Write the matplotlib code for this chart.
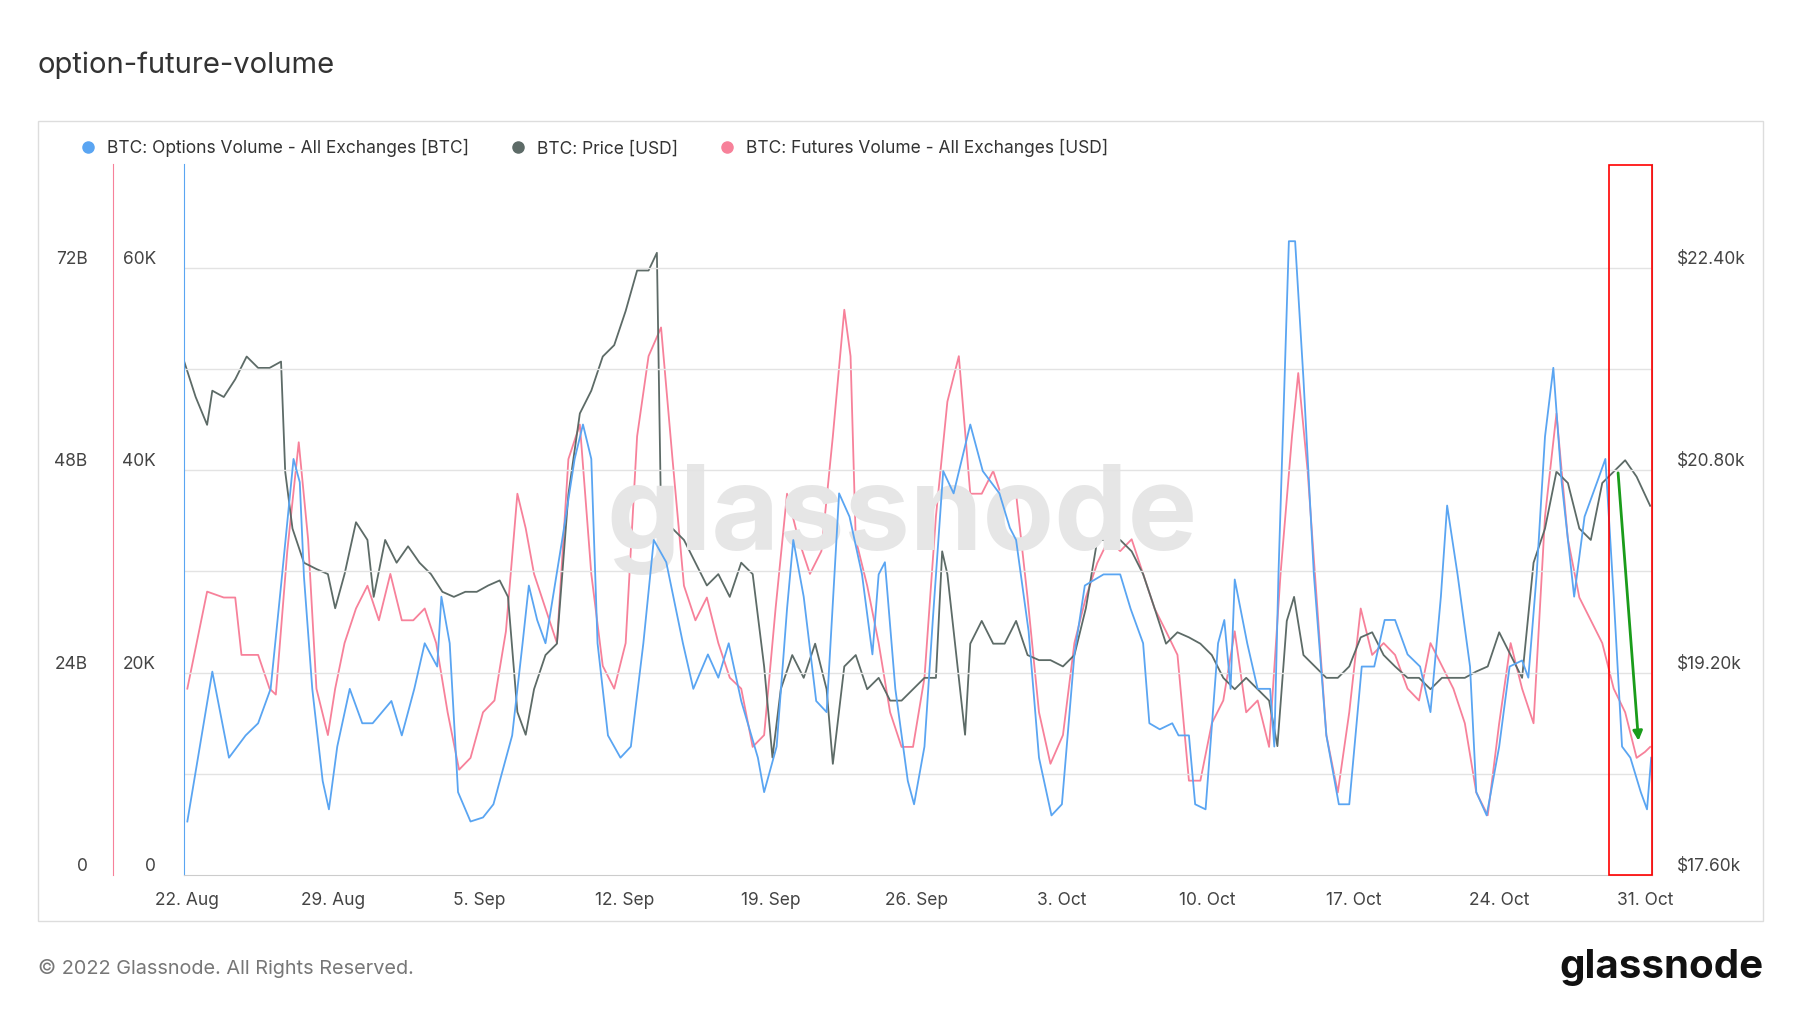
import matplotlib
matplotlib.use("Agg")
import matplotlib.pyplot as plt
from matplotlib.lines import Line2D
from matplotlib.patches import Rectangle, FancyArrowPatch

# days since 22 Aug 2022
opt_days = [0,1.2,2,2.8,3.4,4,4.5,5.1,5.4,5.6,6,6.5,6.8,7.2,7.8,8.4,8.9,9.8,10.3,10.9,11.4,12,12.2,12.6,13,13.6,14.2,14.7,15.6,16.1,16.4,16.8,17.2,18,18.6,19,19.4,19.7,20.2,20.8,21.3,21.9,22.4,23,23.8,24.3,25,25.5,26,26.6,27.4,27.7,28.3,28.8,29.1,29.6,30.2,30.7,31.3,31.8,32.4,32.9,33.2,33.5,34,34.6,34.9,35.4,35.8,36.3,36.8,37.6,38.2,39,39.5,39.8,40.4,40.9,41.5,42,42.6,43.1,44,44.8,45.3,45.9,46.2,46.7,47.3,47.6,48.1,48.4,48.9,49.5,49.8,50.1,50.3,50.9,51.4,52,52.2,52.4,52.9,53.2,53.6,54.1,54.7,55.3,55.8,56.4,57,57.5,58,58.6,59.2,59.7,60.2,60.5,61,61.6,61.9,62.4,63,63.5,64.1,64.4,64.8,65.2,65.6,66,66.6,67.1,67.7,68.1,68.5,68.9,69.3,69.8,70.1,70.3]
opt_vol_k = [5.3,20.1,11.6,13.8,15.0,18.4,28.6,41.1,38.8,29.5,18.4,9.3,6.5,12.7,18.4,15.0,15.0,17.2,13.8,18.4,22.9,20.6,27.5,22.9,8.2,5.3,5.7,7.0,13.8,22.9,28.6,25.2,22.9,33.1,41.1,44.5,41.1,22.9,13.8,11.6,12.7,22.9,33.1,30.9,22.9,18.4,21.8,19.5,22.9,17.2,11.6,8.2,12.7,26.3,33.1,27.5,17.2,16.1,37.7,35.4,29.7,21.8,29.7,30.9,18.4,9.3,7.0,12.7,25.2,39.9,37.7,44.5,39.9,37.7,34.3,33.1,24.1,11.6,5.9,7.0,21.8,28.6,29.7,29.7,26.3,22.9,15.0,14.4,15.0,13.8,13.8,7.0,6.5,22.9,25.2,18.4,29.2,22.9,18.4,18.4,12.7,29.7,62.6,62.6,49.0,29.7,13.8,7.0,7.0,20.6,20.6,25.2,25.2,21.8,20.6,16.1,27.5,36.5,29.7,20.6,8.2,5.9,12.7,20.6,21.2,19.5,29.7,43.3,50.1,38.8,27.5,35.4,38.8,41.1,27.5,12.7,11.6,8.2,6.5,11.6]

fut_days = [0,0.95,1.75,2.3,2.6,3.4,3.95,4.25,4.8,5.35,5.8,6.2,6.75,7.1,7.55,8.1,8.65,9.2,9.75,10.3,10.85,11.4,11.95,12.5,13.05,13.6,14.2,14.75,15.3,15.85,16.25,16.65,17.2,17.75,18.3,18.85,19.4,19.95,20.5,21.05,21.6,22.15,22.75,23.3,23.85,24.4,24.95,25.5,26.05,26.6,27.15,27.7,28.25,28.8,29.35,29.9,30.45,31.0,31.55,31.85,32.1,32.65,33.2,33.75,34.3,34.85,35.4,35.95,36.5,37.05,37.6,38.15,38.7,39.25,39.8,40.35,40.9,41.45,42.05,42.6,43.15,43.7,44.25,44.8,45.35,45.9,46.45,47.0,47.55,48.1,48.65,49.2,49.75,50.3,50.85,51.4,51.95,52.5,53.05,53.35,53.8,54.15,54.7,55.25,55.8,56.35,56.9,57.45,58.0,58.6,59.15,59.7,60.25,60.8,61.35,61.9,62.45,63.0,63.55,64.1,64.65,65.2,65.75,66.3,66.85,67.4,67.95,68.5,69.05,69.6,70.0,70.25]
fut_vol_b = [22.1,33.6,32.9,32.9,26.1,26.1,22.1,21.4,38.4,51.3,39.8,22.1,16.6,22.1,27.5,31.6,34.3,30.2,35.7,30.2,30.2,31.6,27.5,19.3,12.5,13.9,19.3,20.7,28.9,45.2,41.1,35.7,31.6,27.5,49.3,53.4,35.7,24.8,22.1,27.5,52.0,61.5,64.9,49.3,34.3,30.2,32.9,27.5,23.4,22.1,15.2,16.6,31.6,45.2,39.8,35.7,38.4,52.0,67.0,61.5,39.8,34.3,27.5,19.3,15.2,15.2,23.4,42.5,56.1,61.5,45.2,45.2,47.9,43.8,45.2,32.9,19.3,13.2,16.6,27.5,32.9,37.0,39.8,38.4,39.8,35.7,31.6,28.9,26.1,11.2,11.2,18.0,20.7,28.9,19.3,20.7,15.2,35.7,52.0,59.5,47.9,35.7,16.6,9.8,19.3,31.6,26.1,27.5,26.1,22.1,20.7,27.5,24.8,22.1,18.0,9.8,7.1,18.0,27.5,22.1,18.0,42.5,54.7,39.8,32.9,30.2,27.5,22.1,19.3,13.9,14.6,15.2]

price_days = [-0.15,0.4,0.95,1.2,1.75,2.3,2.85,3.4,3.95,4.5,4.7,5.05,5.6,6.2,6.75,7.1,7.55,8.1,8.65,8.95,9.5,10.05,10.6,11.15,11.7,12.25,12.8,13.35,13.9,14.45,15.0,15.4,15.85,16.25,16.65,17.2,17.75,18.3,18.85,19.4,19.95,20.5,21.05,21.6,22.15,22.55,22.75,23.3,23.85,24.4,24.95,25.5,26.05,26.6,27.15,27.7,28.1,28.5,29.05,29.6,30.15,30.7,31.0,31.55,32.1,32.65,33.2,33.75,34.3,34.85,35.4,35.95,36.25,36.5,37.05,37.35,37.6,38.15,38.7,39.25,39.8,40.35,40.9,41.45,42.05,42.6,43.15,43.7,44.25,44.8,45.35,45.9,46.45,47.0,47.55,48.1,48.65,49.2,49.75,50.3,50.85,51.4,51.95,52.35,52.8,53.15,53.6,54.15,54.7,55.25,55.8,56.35,56.9,57.45,58.0,58.6,59.15,59.7,60.25,60.8,61.35,61.9,62.45,63.0,63.55,64.1,64.65,65.2,65.75,66.3,66.85,67.4,67.95,68.5,69.05,69.6,70.25]
price_k = [21.66,21.38,21.16,21.43,21.38,21.52,21.70,21.61,21.61,21.66,20.79,20.34,20.07,20.02,19.98,19.71,19.98,20.39,20.25,19.80,20.25,20.07,20.20,20.07,19.98,19.84,19.80,19.84,19.84,19.89,19.93,19.80,18.89,18.71,19.07,19.34,19.43,20.61,21.25,21.43,21.70,21.79,22.06,22.38,22.38,22.52,20.43,20.34,20.25,20.07,19.89,19.98,19.80,20.07,19.98,19.25,18.53,19.07,19.34,19.16,19.43,19.07,18.48,19.25,19.34,19.07,19.16,18.98,18.98,19.07,19.16,19.16,20.16,19.98,19.16,18.71,19.43,19.61,19.43,19.43,19.61,19.34,19.30,19.30,19.25,19.34,19.71,20.25,20.25,20.25,20.16,19.98,19.71,19.43,19.52,19.48,19.43,19.34,19.16,19.07,19.16,19.07,18.98,18.62,19.61,19.80,19.34,19.25,19.16,19.16,19.25,19.48,19.52,19.34,19.25,19.16,19.16,19.07,19.16,19.16,19.16,19.21,19.25,19.52,19.34,19.16,20.07,20.34,20.79,20.70,20.34,20.25,20.70,20.79,20.88,20.75,20.52]

xtick_days = [0,7,14,21,28,35,42,49,56,63,70]
xtick_labels = ["22. Aug","29. Aug","5. Sep","12. Sep","19. Sep","26. Sep","3. Oct","10. Oct","17. Oct","24. Oct","31. Oct"]

BLUE = "#5aa5f2"; PINK = "#f7819a"; GREY = "#5d6b67"; TXT = "#444444"
plt.rcParams['font.family'] = ['Inter', 'DejaVu Sans']

W, H = 1567.0, 882.0
fig = plt.figure(figsize=(18, 10.13), dpi=100)
fig.patches.append(Rectangle((33/W, 1-802/H), (1535-33)/W, (802-105)/H,
                             transform=fig.transFigure, fill=False, ec="#dddddd", lw=1))
fig.text(33/W, 1-57/H, "option-future-volume", fontsize=21, color="#333333", va="center")
fig.text(33/W, 1-843/H, "© 2022 Glassnode. All Rights Reserved.", fontsize=14.3, color="#777777", va="center")
fig.text(1535/W, 1-842/H, "glassnode", fontsize=29, color="#111111", va="center", ha="right", fontweight="bold")

ax = fig.add_axes([160/W, 1-762/H, (1438-160)/W, (762-143)/H])
ax_f = ax.twinx(); ax_p = ax.twinx()
ax.set_zorder(3); ax.patch.set_visible(False)

ax.text(0.489, 0.50, "glassnode", transform=ax.transAxes, fontsize=84, color="#e6e6e6",
        ha="center", va="center", zorder=0, fontweight="bold")

ax_p.plot(price_days, price_k, color=GREY, lw=1.3, zorder=2)
ax_f.plot(fut_days, fut_vol_b, color=PINK, lw=1.3, zorder=2)
ax.plot(opt_days, opt_vol_k, color=BLUE, lw=1.3, zorder=3)

xlim = (-0.17, 70.33)
ax.set_xlim(*xlim)
ax.set_ylim(0, 70.2); ax_f.set_ylim(0, 84.24); ax_p.set_ylim(17.6, 23.22)
for y in [10,20,30,40,50,60]:
    ax.axhline(y, color="#e3e3e3", lw=1, zorder=0)

ax.set_yticks([0,20,40,60]); ax.set_yticklabels(["0","20K","40K","60K"])
ax_f.set_yticks([0,24,48,72]); ax_f.set_yticklabels(["0","24B","48B","72B"])
ax_p.set_yticks([17.6,19.2,20.8,22.4]); ax_p.set_yticklabels(["$17.60k","$19.20k","$20.80k","$22.40k"])
ax.set_xticks(xtick_days); ax.set_xticklabels(xtick_labels)

for a in (ax, ax_f, ax_p):
    for s in a.spines.values(): s.set_visible(False)
    a.tick_params(length=0, labelsize=12.5, labelcolor=TXT)
ax.spines['left'].set_visible(True); ax.spines['left'].set_color(BLUE)
ax.spines['bottom'].set_visible(True); ax.spines['bottom'].set_color("#cccccc")
ax.tick_params(axis='y', pad=20); ax.tick_params(axis='x', pad=12)
ax_f.yaxis.set_ticks_position('left'); ax_f.yaxis.set_label_position('left')
ax_f.spines['left'].set_visible(True); ax_f.spines['left'].set_color(PINK)
ax_f.spines['left'].set_position(('axes', -0.0485))
ax_f.tick_params(axis='y', pad=18)
ax_p.spines['right'].set_visible(True); ax_p.spines['right'].set_color("#999999")
ax_p.tick_params(axis='y', pad=18)
for t in ax.get_yticklabels() + ax_f.get_yticklabels() + ax_p.get_yticklabels():
    t.set_va("bottom")

# highlight box + arrow
ax.add_patch(Rectangle((68.28, 0.0), 70.33-68.28, 70.1, fill=False, ec="red", lw=1.2, zorder=5, clip_on=False))
ax.add_patch(FancyArrowPatch((68.7, 40.0), (69.7, 13.0), arrowstyle="-|>", mutation_scale=14,
                             color="#1a9c1a", lw=2, zorder=6))

handles = [Line2D([], [], marker='o', ls='none', color=c, markersize=8) for c in (BLUE, GREY, PINK)]
fig.legend(handles, ["BTC: Options Volume - All Exchanges [BTC]", "BTC: Price [USD]",
                     "BTC: Futures Volume - All Exchanges [USD]"],
           loc="center left", bbox_to_anchor=(48/W, 1-129/H), ncol=3, frameon=False,
           fontsize=12.5, handletextpad=0.1, columnspacing=1.8, labelcolor="#333333")

fig.savefig("out.png", dpi=100)
